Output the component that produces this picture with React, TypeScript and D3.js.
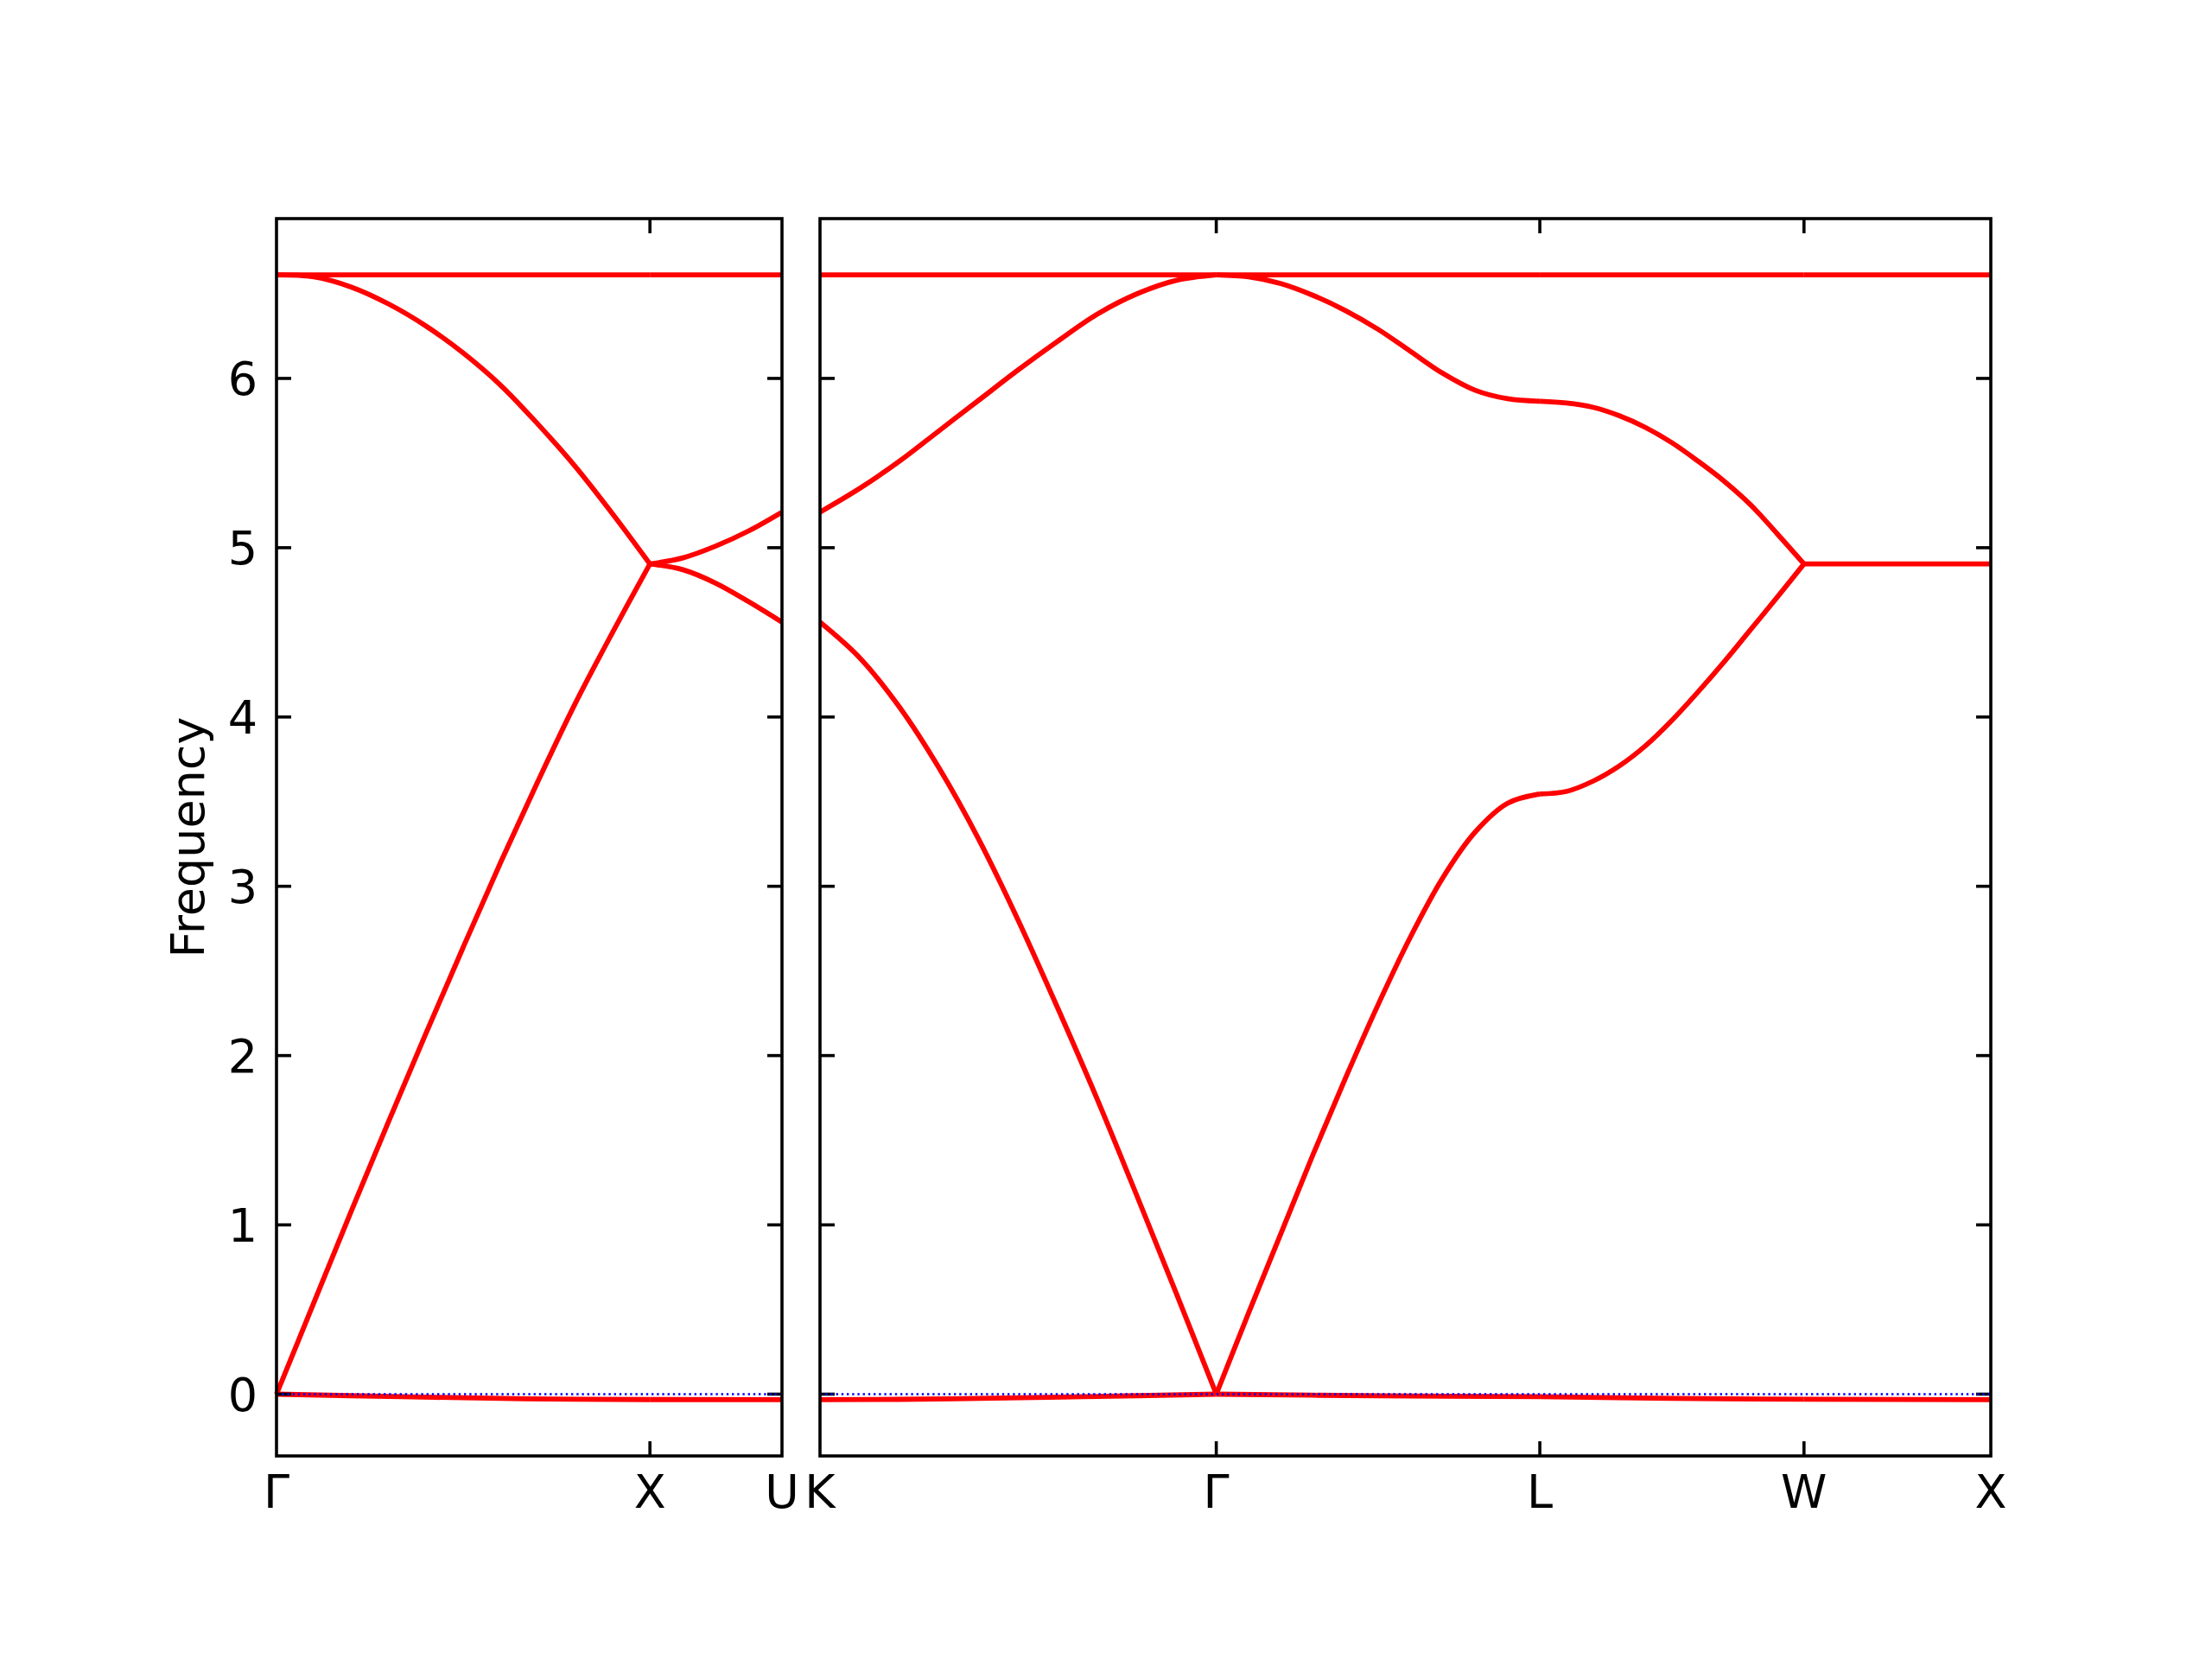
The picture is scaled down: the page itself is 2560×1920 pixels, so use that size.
import React from "react";
import * as d3 from "d3";

// ---- Data ----
const panel1Labels = ["Γ", "X", "U"];
const panel1Lengths = [1.0, 0.3536];
const panel2Labels = ["K", "Γ", "L", "W", "X"];
const panel2Lengths = [1.0607, 0.866, 0.7071, 0.5];

const yTicks = [0, 1, 2, 3, 4, 5, 6];
const yDomain = [-0.365, 6.944];

// panel 1 segments (values at evenly spaced points along each segment)
const gxAcoustic = [0, 0.54, 1.08, 1.61, 2.13, 2.64, 3.14, 3.62, 4.08, 4.5, 4.904];
const gxOptical = [6.612, 6.6, 6.54, 6.44, 6.31, 6.15, 5.96, 5.73, 5.48, 5.2, 4.904];
const gxTop = [6.612, 6.612];
const gxNeg = [0, -0.015, -0.027, -0.032];
const xuUpper = [4.904, 4.94, 5.01, 5.1, 5.21];
const xuLower = [4.904, 4.87, 4.79, 4.68, 4.56];
const xuTop = [6.612, 6.612];
const xuNeg = [-0.032, -0.033];

// panel 2 segments
const kgUpper = [5.21, 5.35, 5.51, 5.69, 5.87, 6.05, 6.22, 6.38, 6.5, 6.58, 6.612];
const kgLower = [4.56, 4.35, 4.06, 3.7, 3.28, 2.8, 2.28, 1.74, 1.17, 0.59, 0];
const kgTop = [6.612, 6.612];
const kgNeg = [-0.033, -0.028, -0.015, 0];
const glLower = [0, 0.48, 0.95, 1.42, 1.87, 2.3, 2.7, 3.05, 3.32, 3.49, 3.545];
const glUpper = [6.612, 6.6, 6.56, 6.49, 6.4, 6.29, 6.16, 6.03, 5.93, 5.88, 5.865];
const glTop = [6.612, 6.612];
const glNeg = [0, -0.01, -0.015];
const lwLower = [3.545, 3.56, 3.62, 3.71, 3.83, 3.98, 4.15, 4.33, 4.52, 4.71, 4.904];
const lwUpper = [5.865, 5.855, 5.83, 5.78, 5.71, 5.62, 5.51, 5.39, 5.25, 5.08, 4.904];
const lwTop = [6.612, 6.612];
const lwNeg = [-0.015, -0.025, -0.03];
const wxMid = [4.904, 4.904];
const wxTop = [6.612, 6.612];
const wxNeg = [-0.03, -0.033];

const panel1Segments = [
  [gxAcoustic, gxOptical, gxTop, gxNeg],
  [xuUpper, xuLower, xuTop, xuNeg],
];
const panel2Segments = [
  [kgUpper, kgLower, kgTop, kgNeg],
  [glLower, glUpper, glTop, glNeg],
  [lwLower, lwUpper, lwTop, lwNeg],
  [wxMid, wxTop, wxNeg],
];

const FONT = "DejaVu Sans, sans-serif";
const FS = 54;

function Panel({ x0, x1, y0, y1, labels, lengths, segments, showYLabels }) {
  const cum = [0];
  lengths.forEach((l) => cum.push(cum[cum.length - 1] + l));
  const xs = d3.scaleLinear().domain([0, cum[cum.length - 1]]).range([x0, x1]);
  const ys = d3.scaleLinear().domain(yDomain).range([y1, y0]);
  const line = d3
    .line<[number, number]>()
    .x((d) => xs(d[0]))
    .y((d) => ys(d[1]))
    .curve(d3.curveCatmullRom.alpha(0.5));
  const tickLen = 17;
  const paths: string[] = [];
  segments.forEach((bands, si) => {
    const a = cum[si];
    const b = cum[si + 1];
    bands.forEach((vals) => {
      const n = vals.length;
      const pts = vals.map((v, i) => [a + ((b - a) * i) / (n - 1), v] as [number, number]);
      paths.push(line(pts) as string);
    });
  });
  return (
    <g>
      {paths.map((p, i) => (
        <path key={i} d={p} fill="none" stroke="#ff0000" strokeWidth={5.8} strokeLinejoin="round" />
      ))}
      {yTicks.map((t) => (
        <g key={"yt" + t}>
          <line x1={x0} x2={x0 + tickLen} y1={ys(t)} y2={ys(t)} stroke="#000" strokeWidth={3.6} />
          <line x1={x1} x2={x1 - tickLen} y1={ys(t)} y2={ys(t)} stroke="#000" strokeWidth={3.6} />
          {showYLabels && (
            <text x={x0 - 22} y={ys(t)} dy="0.36em" textAnchor="end" fontFamily={FONT} fontSize={FS} fill="#000">
              {t}
            </text>
          )}
        </g>
      ))}
      {cum.map((c, i) => (
        <g key={"xt" + i}>
          {i > 0 && i < cum.length - 1 && (
            <>
              <line x1={xs(c)} x2={xs(c)} y1={y0} y2={y0 + tickLen} stroke="#000" strokeWidth={3.6} />
              <line x1={xs(c)} x2={xs(c)} y1={y1} y2={y1 - tickLen} stroke="#000" strokeWidth={3.6} />
            </>
          )}
          <text x={xs(c)} y={1745} textAnchor="middle" fontFamily={FONT} fontSize={FS} fill="#000">
            {labels[i]}
          </text>
        </g>
      ))}
      <line
        x1={x0}
        x2={x1}
        y1={ys(0)}
        y2={ys(0)}
        stroke="#0000ff"
        strokeWidth={2.4}
        strokeDasharray="2.4 3.8"
      />
      <rect x={x0} y={y0} width={x1 - x0} height={y1 - y0} fill="none" stroke="#000" strokeWidth={3.6} />
    </g>
  );
}

export default function App() {
  const y0 = 253;
  const y1 = 1685;
  return (
    <svg
      width={2560}
      height={1920}
      style={{ display: "block", background: "#fff", position: "absolute", left: 0, top: 0 }}
    >
      <rect width={2560} height={1920} fill="#fff" />
      <Panel
        x0={320}
        x1={905}
        y0={y0}
        y1={y1}
        labels={panel1Labels}
        lengths={panel1Lengths}
        segments={panel1Segments}
        showYLabels={true}
      />
      <Panel
        x0={949}
        x1={2304}
        y0={y0}
        y1={y1}
        labels={panel2Labels}
        lengths={panel2Lengths}
        segments={panel2Segments}
        showYLabels={false}
      />
      <text
        transform={`translate(236,${(y0 + y1) / 2}) rotate(-90)`}
        textAnchor="middle"
        fontFamily={FONT}
        fontSize={FS}
        fill="#000"
      >
        Frequency
      </text>
    </svg>
  );
}
